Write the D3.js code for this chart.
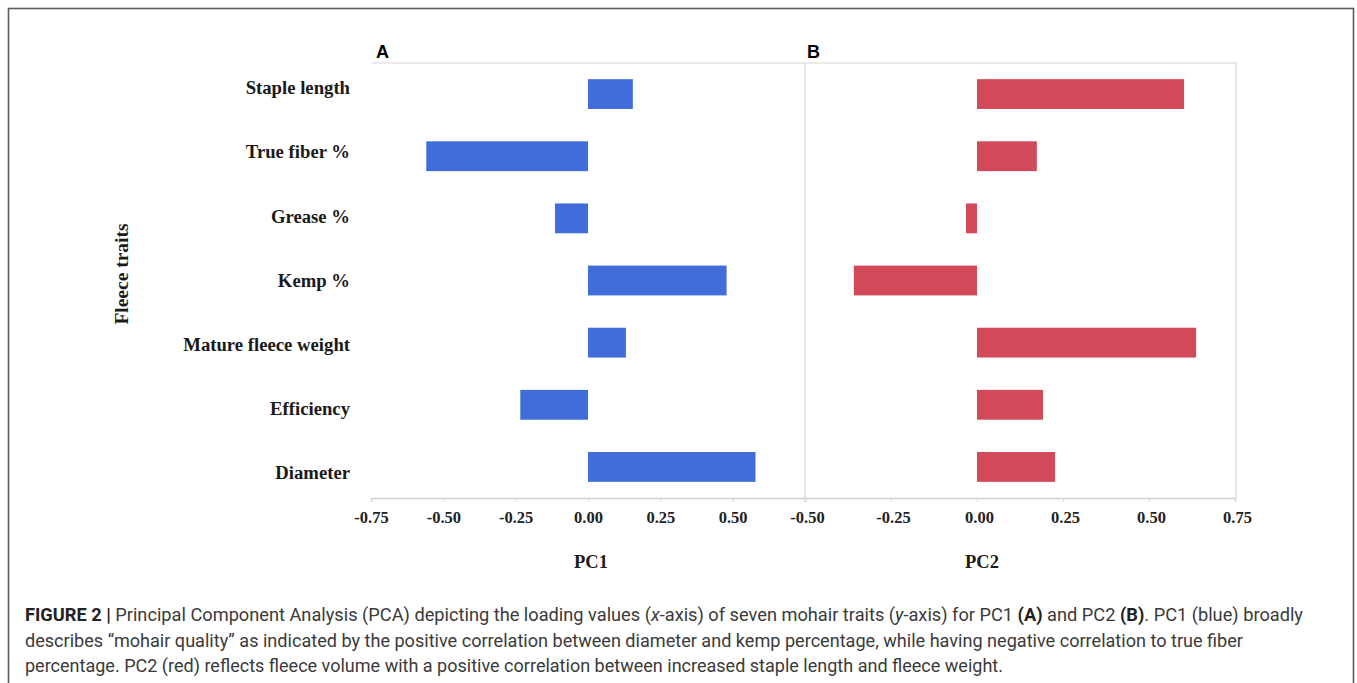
<!DOCTYPE html>
<html>
<head>
<meta charset="utf-8">
<script src="https://cdn.jsdelivr.net/npm/d3@7"></script>
<style>
  html, body { margin: 0; padding: 0; background: #fff; }
  svg { display: block; }
</style>
</head>
<body>
<svg id="fig" width="1357" height="683"></svg>
<script>
// Fleece traits and their PCA loadings
const traits = ["Staple length", "True fiber %", "Grease %", "Kemp %", "Mature fleece weight", "Efficiency", "Diameter"];
const pc1 = [0.155, -0.559, -0.114, 0.479, 0.131, -0.234, 0.579];
const pc2 = [0.602, 0.174, -0.032, -0.358, 0.637, 0.192, 0.227];
const pc1Ticks = [-0.75, -0.50, -0.25, 0.00, 0.25, 0.50];
const pc2Ticks = [-0.50, -0.25, 0.00, 0.25, 0.50, 0.75];

const captionLines = [
  [{t: "FIGURE 2 | ", b: true}, {t: "Principal Component Analysis (PCA) depicting the loading values ("}, {t: "x", i: true}, {t: "-axis) of seven mohair traits ("}, {t: "y", i: true}, {t: "-axis) for PC1 "}, {t: "(A)", b: true}, {t: " and PC2 "}, {t: "(B)", b: true}, {t: ". PC1 (blue) broadly"}],
  [{t: "describes \u201cmohair quality\u201d as indicated by the positive correlation between diameter and kemp percentage, while having negative correlation to true fiber"}],
  [{t: "percentage. PC2 (red) reflects fleece volume with a positive correlation between increased staple length and fleece weight."}]
];
const captionWidths = [1278, 1218, 978];

const svg = d3.select("#fig");
const serif = "'Liberation Serif', 'Times New Roman', serif";
const sans = "'Liberation Sans', Arial, sans-serif";

// outer frame
svg.append("rect").attr("x", 8.5).attr("y", 8.5).attr("width", 1345).attr("height", 700)
  .attr("fill", "none").attr("stroke", "#5a5a5a").attr("stroke-width", 1.6);

const plotTop = 63, plotBottom = 498;
const y = d3.scaleBand().domain(traits).range([plotTop, plotBottom]).paddingInner(0.52).paddingOuter(0.26);
// the trait labels sit on a slightly taller column than the bars
const yLabel = d3.scalePoint().domain(traits).range([90, 475]);

const xA = d3.scaleLinear().domain([-0.75, 0.75]).range([371, 805]);
const xB = d3.scaleLinear().domain([-0.5, 0.75]).range([805, 1235]);

// plot frame lines
const frame = svg.append("g").attr("stroke", "#d4d4d4").attr("stroke-width", 1.2).attr("fill", "none");
frame.append("line").attr("x1", 372).attr("x2", 1236).attr("y1", plotTop).attr("y2", plotTop);
frame.append("line").attr("x1", 805).attr("x2", 805).attr("y1", plotTop).attr("y2", plotBottom);
frame.append("line").attr("x1", 1236).attr("x2", 1236).attr("y1", plotTop).attr("y2", plotBottom);

function drawAxis(x, ticks, xOffset) {
  const g = svg.append("g").attr("transform", `translate(0,${plotBottom})`)
    .call(d3.axisBottom(x).tickValues(ticks).tickFormat(d => d.toFixed(2)).tickSize(4).tickPadding(9));
  g.select(".domain").attr("stroke", "#cfcfcf").attr("stroke-width", 1.5);
  g.selectAll(".tick line").attr("stroke", "#d8d8d8");
  g.selectAll(".tick text").attr("font-family", serif).attr("font-weight", "bold")
    .attr("font-size", 16.5).attr("fill", "#222").attr("dx", xOffset);
  return g;
}
drawAxis(xA, pc1Ticks, 0);
drawAxis(xB, pc2Ticks, 2);

// bars
function drawBars(x, vals, color) {
  svg.append("g").selectAll("rect").data(traits).join("rect")
    .attr("x", (d, i) => x(Math.min(0, vals[i])))
    .attr("width", (d, i) => Math.abs(x(vals[i]) - x(0)))
    .attr("y", d => y(d))
    .attr("height", y.bandwidth())
    .attr("fill", color);
}
drawBars(xA, pc1, "#416ddb");
drawBars(xB, pc2, "#d2495a");

// category labels
svg.append("g").selectAll("text").data(traits).join("text")
  .attr("x", 350).attr("y", d => yLabel(d))
  .attr("text-anchor", "end").attr("dominant-baseline", "middle")
  .attr("font-family", serif).attr("font-weight", "bold").attr("font-size", 18.7).attr("fill", "#1a1a1a")
  .text(d => d);

// axis titles
svg.append("text").attr("transform", "translate(128,274) rotate(-90)")
  .attr("text-anchor", "middle").attr("font-family", serif).attr("font-weight", "bold")
  .attr("font-size", 19.5).attr("fill", "#1a1a1a").text("Fleece traits");
svg.append("text").attr("x", 591).attr("y", 568).attr("text-anchor", "middle")
  .attr("font-family", serif).attr("font-weight", "bold").attr("font-size", 18.5).attr("fill", "#1a1a1a").text("PC1");
svg.append("text").attr("x", 982).attr("y", 568).attr("text-anchor", "middle")
  .attr("font-family", serif).attr("font-weight", "bold").attr("font-size", 18.5).attr("fill", "#1a1a1a").text("PC2");

// panel letters
svg.append("text").attr("x", 376).attr("y", 58).attr("font-family", sans).attr("font-weight", "bold")
  .attr("font-size", 18).attr("fill", "#000").text("A");
svg.append("text").attr("x", 807).attr("y", 58).attr("font-family", sans).attr("font-weight", "bold")
  .attr("font-size", 18).attr("fill", "#000").text("B");

// caption
const capY = [621, 647, 672];
captionLines.forEach((line, i) => {
  const t = svg.append("text").attr("x", 25).attr("y", capY[i])
    .attr("font-family", "'Liberation Sans Narrow', 'Roboto', 'Liberation Sans', sans-serif")
    .attr("font-size", 18).attr("fill", "#3a3a3a")
    .attr("textLength", captionWidths[i]).attr("lengthAdjust", "spacingAndGlyphs");
  line.forEach(s => {
    t.append("tspan").text(s.t)
      .attr("font-weight", s.b ? "bold" : null)
      .attr("font-style", s.i ? "italic" : null)
      .attr("fill", s.b ? "#222" : null);
  });
});
</script>
</body>
</html>
